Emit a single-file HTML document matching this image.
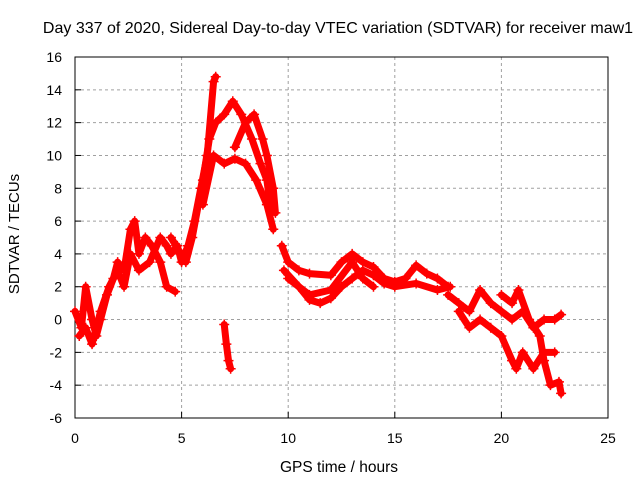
<!DOCTYPE html>
<html><head><meta charset="utf-8"><style>
body{margin:0;background:#fff;font-family:"Liberation Sans",sans-serif}
svg text{font-family:"Liberation Sans",sans-serif;font-size:14px;fill:#000}
</style></head><body>
<svg width="640" height="480" xmlns="http://www.w3.org/2000/svg">
<g id="grid"></g>
<g id="axes"></g>
<g id="marks"></g>
<text x="338" y="33" text-anchor="middle" style="font-size:16px">Day 337 of 2020, Sidereal Day-to-day VTEC variation (SDTVAR) for receiver maw1</text>
<text x="339" y="472" text-anchor="middle" style="font-size:15.5px">GPS time / hours</text>
<text x="0" y="0" text-anchor="middle" style="font-size:15px" transform="translate(19,234) rotate(-90)">SDTVAR / TECUs</text>
</svg>
<script>
const xTicks=[0,5,10,15,20,25];
const yTicks=[-6,-4,-2,0,2,4,6,8,10,12,14,16];
const traceA=[[0,0.5],[0.3,-0.5],[0.5,2],[0.8,0],[1,-1],[1.2,0],[1.5,1.5],[1.8,2.5],[2,3.5],[2.3,3],[2.6,5.5],[2.8,6],[3,4],[3.3,5],[3.6,4.5],[4,3.5],[4.3,2],[4.7,1.7]];
const traceB=[[0.2,-1],[0.5,-0.5],[0.8,-1.5],[1.2,0.5],[1.6,2],[2,3],[2.3,2],[2.6,4],[3,3],[3.5,3.5],[4,5],[4.3,4.5],[4.5,4],[4.8,4.5],[5,3.5],[5.3,4.5],[5.6,6],[5.9,8],[6.2,10],[6.5,14.5],[6.6,14.8]];
const traceC=[[4.5,5],[5.2,3.5],[5.5,5],[6,8.5],[6.3,11],[6.6,12],[7,12.5],[7.4,13.3],[7.8,12.5],[8.3,11],[8.7,9.5],[9,8.5],[9.2,6.5]];
const traceD=[[6,7],[6.5,10],[7,9.5],[7.5,9.8],[8,9.5],[8.5,8.5],[9,7],[9.3,5.5]];
const traceE=[[7.5,10.5],[8,12],[8.4,12.5],[8.8,11],[9,10],[9.3,8],[9.4,6.5]];
const traceF=[[7,-0.3],[7.1,-1.5],[7.2,-2.5],[7.3,-3]];
const traceG=[[9.7,4.5],[10,3.5],[10.5,3],[11,2.8],[12,2.7],[12.5,3.5],[13,4],[13.5,3.5],[14,3.2],[14.5,2.5],[15,2.3],[15.5,2.5],[16,3.3],[16.5,2.8],[17,2.5],[17.5,2]];
const traceH=[[9.8,3],[10.5,2],[11,1.2],[11.5,1],[12,1.3],[12.5,2],[13,2.5],[13.5,3],[14,2.7],[14.5,2.2],[15,2],[16,2.2],[17,1.8],[17.6,2]];
const traceI=[[10,2.5],[11,1.5],[12,1.8],[13,3.5],[13.5,2.5],[14,2]];
const traceJ=[[17.5,1.5],[18,1],[18.5,0.5],[19,1.8],[19.5,1],[20,0.5],[20.5,0],[21,0.5],[21.5,-0.5],[22,0],[22.5,0],[22.8,0.3]];
const traceK=[[18,0.5],[18.5,-0.5],[19,0],[19.5,-0.5],[20,-1],[20.5,-2.5],[20.7,-3],[21,-2],[21.5,-3],[22,-2],[22.5,-2]];
const traceL=[[20,1.5],[20.5,1],[20.8,1.8],[21.3,0],[21.8,-1],[22,-2.5],[22.3,-4],[22.7,-3.8],[22.8,-4.5]];
const traces=[traceA,traceB,traceC,traceD,traceE,traceF,traceG,traceH,traceI,traceJ,traceK,traceL];
const L=75,R=608,T=57,B=418,ns="http://www.w3.org/2000/svg";
const sx=v=>L+(v-0)/(25-0)*(R-L);
const sy=v=>B-(v+6)/(22)*(B-T);
function mk(tag,attrs,parent){const e=document.createElementNS(ns,tag);for(const k in attrs)e.setAttribute(k,attrs[k]);parent.appendChild(e);return e;}
const grid=document.getElementById('grid'),axes=document.getElementById('axes'),marks=document.getElementById('marks');
xTicks.forEach(t=>{
 if(t>0&&t<25){const g=mk('line',{x1:sx(t),x2:sx(t),y1:T,y2:B,stroke:'#a0a0a0','stroke-dasharray':'3,3'},grid);
 
 }
 const tk=mk('line',{x1:sx(t),x2:sx(t),y1:B,y2:B-6,stroke:'#000'},axes);
 
 
 const tx=mk('text',{x:sx(t),y:B+25,'text-anchor':'middle'},axes);tx.textContent=t;
 
 
});
yTicks.forEach(t=>{
 if(t>-6&&t<16){const g=mk('line',{x1:L,x2:R,y1:sy(t),y2:sy(t),stroke:'#a0a0a0','stroke-dasharray':'3,3'},grid);
 
 }
 const tk=mk('line',{x1:L,x2:L+6,y1:sy(t),y2:sy(t),stroke:'#000'},axes);
 
 
 const tx=mk('text',{x:L-13,y:sy(t)+5,'text-anchor':'end'},axes);tx.textContent=t;
 
 
});
const fr=mk('rect',{x:L,y:T,width:R-L,height:B-T,fill:'none',stroke:'#000'},axes);


traces.forEach(tr=>{
 const p=mk('polyline',{points:tr.map(d=>sx(d[0])+','+sy(d[1])).join(' '),fill:'none',stroke:'#f00','stroke-width':7,'stroke-linejoin':'round','stroke-linecap':'round'},marks);
 
 
 tr.forEach(d=>{
  const x=sx(d[0]),y=sy(d[1]);
  const m=mk('path',{d:`M${x-5},${y}H${x+5}M${x},${y-5}V${y+5}`,stroke:'#f00','stroke-width':1.5},marks);
  
  
 });
});
</script>
</body></html>
